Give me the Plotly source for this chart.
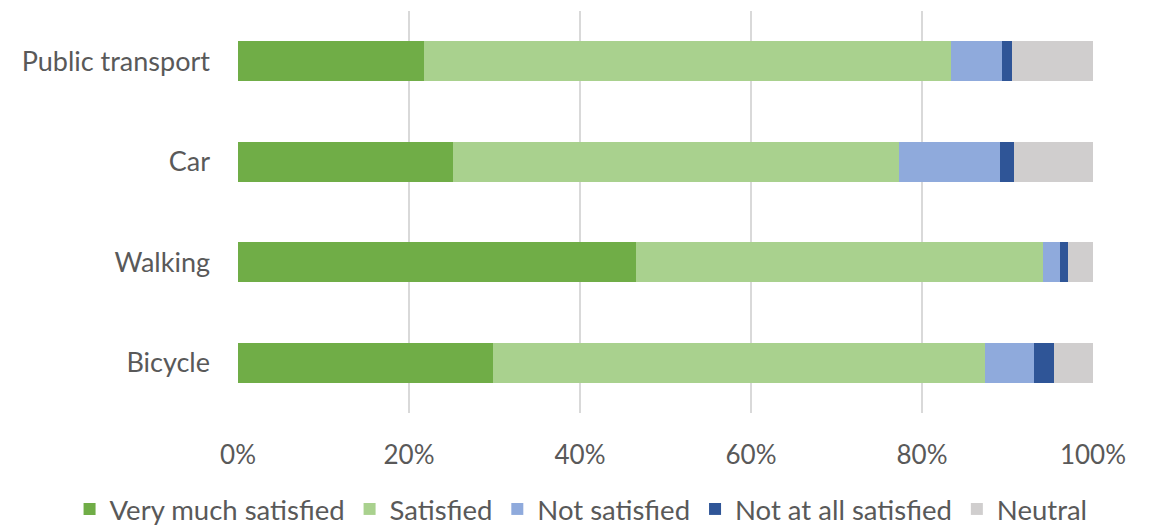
import plotly.graph_objects as go

categories = ["Bicycle", "Walking", "Car", "Public transport"]
very_much_satisfied = [29.8, 46.5, 25.1, 21.8]
satisfied = [57.6, 47.7, 52.2, 61.6]
not_satisfied = [5.7, 1.9, 11.8, 6.0]
not_at_all_satisfied = [2.3, 1.0, 1.7, 1.1]
neutral = [4.6, 2.9, 9.2, 9.5]

series = [
    ("Very much satisfied", very_much_satisfied, "#70AD47"),
    ("Satisfied", satisfied, "#A9D18E"),
    ("Not satisfied", not_satisfied, "#8FAADC"),
    ("Not at all satisfied", not_at_all_satisfied, "#2F5597"),
    ("Neutral", neutral, "#D0CECE"),
]

fig = go.Figure()
for name, vals, color in series:
    fig.add_trace(go.Bar(
        y=categories, x=vals, name=name, orientation="h",
        marker=dict(color=color, line=dict(width=0)),
    ))

font_family = "Lato, 'Open Sans', sans-serif"
fig.update_layout(
    barmode="stack",
    bargap=0.6,
    width=1153, height=527,
    margin=dict(l=238, r=60, t=11, b=114, autoexpand=False),
    plot_bgcolor="white", paper_bgcolor="white",
    font=dict(family=font_family, size=26, color="#595959"),
    xaxis=dict(
        range=[0, 100], tickvals=[0, 20, 40, 60, 80, 100],
        ticktext=["0%", "20%", "40%", "60%", "80%", "100%"],
        showgrid=True, gridcolor="#D9D9D9", gridwidth=1.5,
        zeroline=False, ticks="", ticklabelstandoff=24,
        tickfont=dict(size=26, color="#595959"),
    ),
    yaxis=dict(
        showgrid=False, ticks="", ticklabelstandoff=27,
        tickfont=dict(size=27, color="#595959"),
    ),
    legend=dict(
        orientation="h", x=-0.197, xanchor="left",
        y=-0.178, yanchor="top",
        font=dict(size=27.5, color="#595959"),
        traceorder="normal", itemwidth=30,
    ),
)

fig.write_html("out.html", config={"displayModeBar": False},
               post_script="document.body.style.margin='0';")
